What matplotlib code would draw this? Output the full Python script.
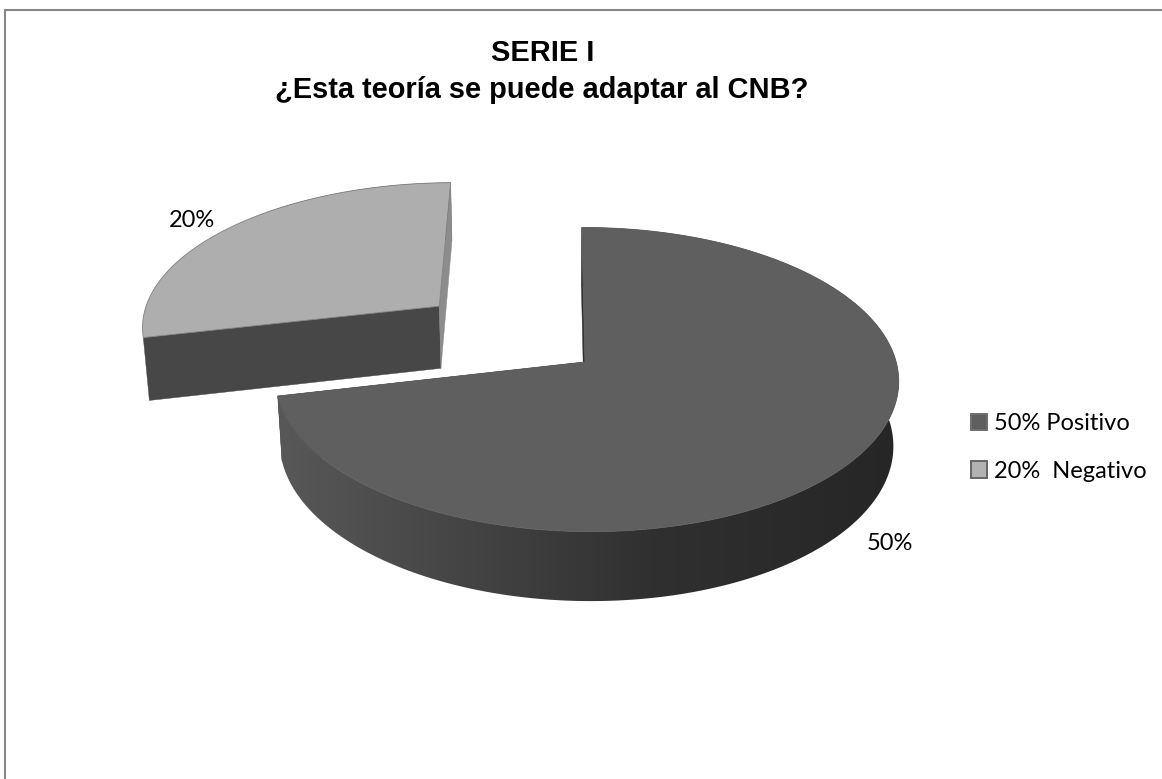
import numpy as np
import matplotlib
matplotlib.use("Agg")
import matplotlib.pyplot as plt
from matplotlib.patches import Patch, Polygon

# ---- data ----
title_lines = ["SERIE I", "¿Esta teoría se puede adaptar al CNB?"]
categories = ["50% Positivo", "20%  Negativo"]
values = [50, 20]
data_labels = ["50%", "20%"]
explode = [0.0, 0.625]
top_colors = ["#5f5f5f", "#aeaeae"]
start_cut_colors = ["#303030", "#474747"]
end_cut_colors = ["#303030", "#8c8c8c"]

# ---- projection of the pie disc (unit radius) ----
W, H = 1162, 779
CX, CY = 585.0, 362.0
DIST, FOCAL = 7.58, 2345.0
SIN_E, COS_E = 0.485, 0.874
PAN, YAW = -0.10, 0.04
THICK = 0.241


def project(X, Y, Z):
    X, Y, Z = np.asarray(X, float), np.asarray(Y, float), np.asarray(Z, float)
    w = DIST + Y * COS_E - Z * SIN_E - YAW * X
    sx = CX + FOCAL * (X - PAN) / w + FOCAL * PAN / DIST
    sy = CY - FOCAL * (Y * SIN_E + Z * COS_E) / w
    return np.column_stack([sx, sy])


fig = plt.figure(figsize=(W / 100, H / 100), dpi=100, facecolor="white")
ax = fig.add_axes([0, 0, 1, 1])
ax.axis("off")

# chart frame, cut off by the right and bottom of the picture
ax.plot([5, 5, W + 2], [H + 2, 9.5, 9.5], color="#868686", lw=1.5, solid_joinstyle="miter")

# horizontal light fall-off on the curved wall
shade_x = np.linspace(260, 920, 256)
shade_g = np.interp(shade_x, [280, 650, 900], [0x58, 0x30, 0x26])
shade_img = np.repeat((shade_g / 255)[None, :, None], 3, axis=2)

fractions = np.array(values, float) / np.sum(values)
starts = np.concatenate([[0], np.cumsum(fractions)[:-1]]) * 2 * np.pi
spans = fractions * 2 * np.pi

for i in range(len(values)):
    a0, a1 = starts[i], starts[i] + spans[i]
    mid = (a0 + a1) / 2
    ox, oy = explode[i] * np.sin(mid), explode[i] * np.cos(mid)
    th = np.linspace(a0, a1, 361)
    rx, ry = ox + np.sin(th), oy + np.cos(th)
    top = project(rx, ry, 0 * th)
    bot = project(rx, ry, 0 * th - THICK)
    apex_t = project([ox], [oy], [0])[0]
    apex_b = project([ox], [oy], [-THICK])[0]
    base = 2 + i * 4

    # cut faces: the large slice shows its back cuts behind the curved wall,
    # the exploded slice shows them in front
    cut_z = base if i == 0 else base + 2
    ax.add_patch(Polygon([apex_t, top[0], bot[0], apex_b], closed=True, fc=start_cut_colors[i],
                         ec=start_cut_colors[i], lw=0.3, zorder=cut_z))
    ax.add_patch(Polygon([apex_t, top[-1], bot[-1], apex_b], closed=True, fc=end_cut_colors[i],
                         ec=end_cut_colors[i], lw=0.3, zorder=cut_z))

    # curved wall: gradient image clipped to the wall outline
    wall = Polygon(np.vstack([top, bot[::-1]]), closed=True, transform=ax.transData, fc="none", ec="none")
    im = ax.imshow(shade_img, extent=[shade_x[0], shade_x[-1], 700, 100], aspect="auto",
                   interpolation="bilinear", zorder=base + 1)
    im.set_clip_path(wall)

    # top face
    ax.add_patch(Polygon(np.vstack([[apex_t], top]), closed=True, fc=top_colors[i],
                         ec="#808080" if i == 1 else top_colors[i], lw=0.6, zorder=base + 3))

ax.set_xlim(0, W)
ax.set_ylim(H, 0)

# title
title_font = dict(family="Liberation Sans", fontweight="bold", fontsize=20.9, color="black", ha="center", va="baseline")
ax.text(543, 61, title_lines[0], **title_font)
ax.text(542, 98, title_lines[1], **title_font)

# data labels
label_font = dict(family="Lato", fontsize=17, color="black", ha="center", va="center")
ax.text(889.5, 543, data_labels[0], **label_font)
ax.text(192.5, 220, data_labels[1], **label_font)

# legend
handles = [Patch(facecolor=top_colors[0], edgecolor="#6e6e6e", lw=1.4),
           Patch(facecolor="#b2b2b2", edgecolor="#666666", lw=1.4)]
leg = ax.legend(handles, categories, loc="upper left", bbox_to_anchor=(971 / W, 1 - 413 / H),
                bbox_transform=ax.transAxes, frameon=False, borderpad=0, borderaxespad=0,
                handlelength=0.68, handleheight=0.68, handletextpad=0.3, labelspacing=1.135,
                prop={"family": "Lato", "size": 17})

fig.savefig("out.png", dpi=100, facecolor="white")
